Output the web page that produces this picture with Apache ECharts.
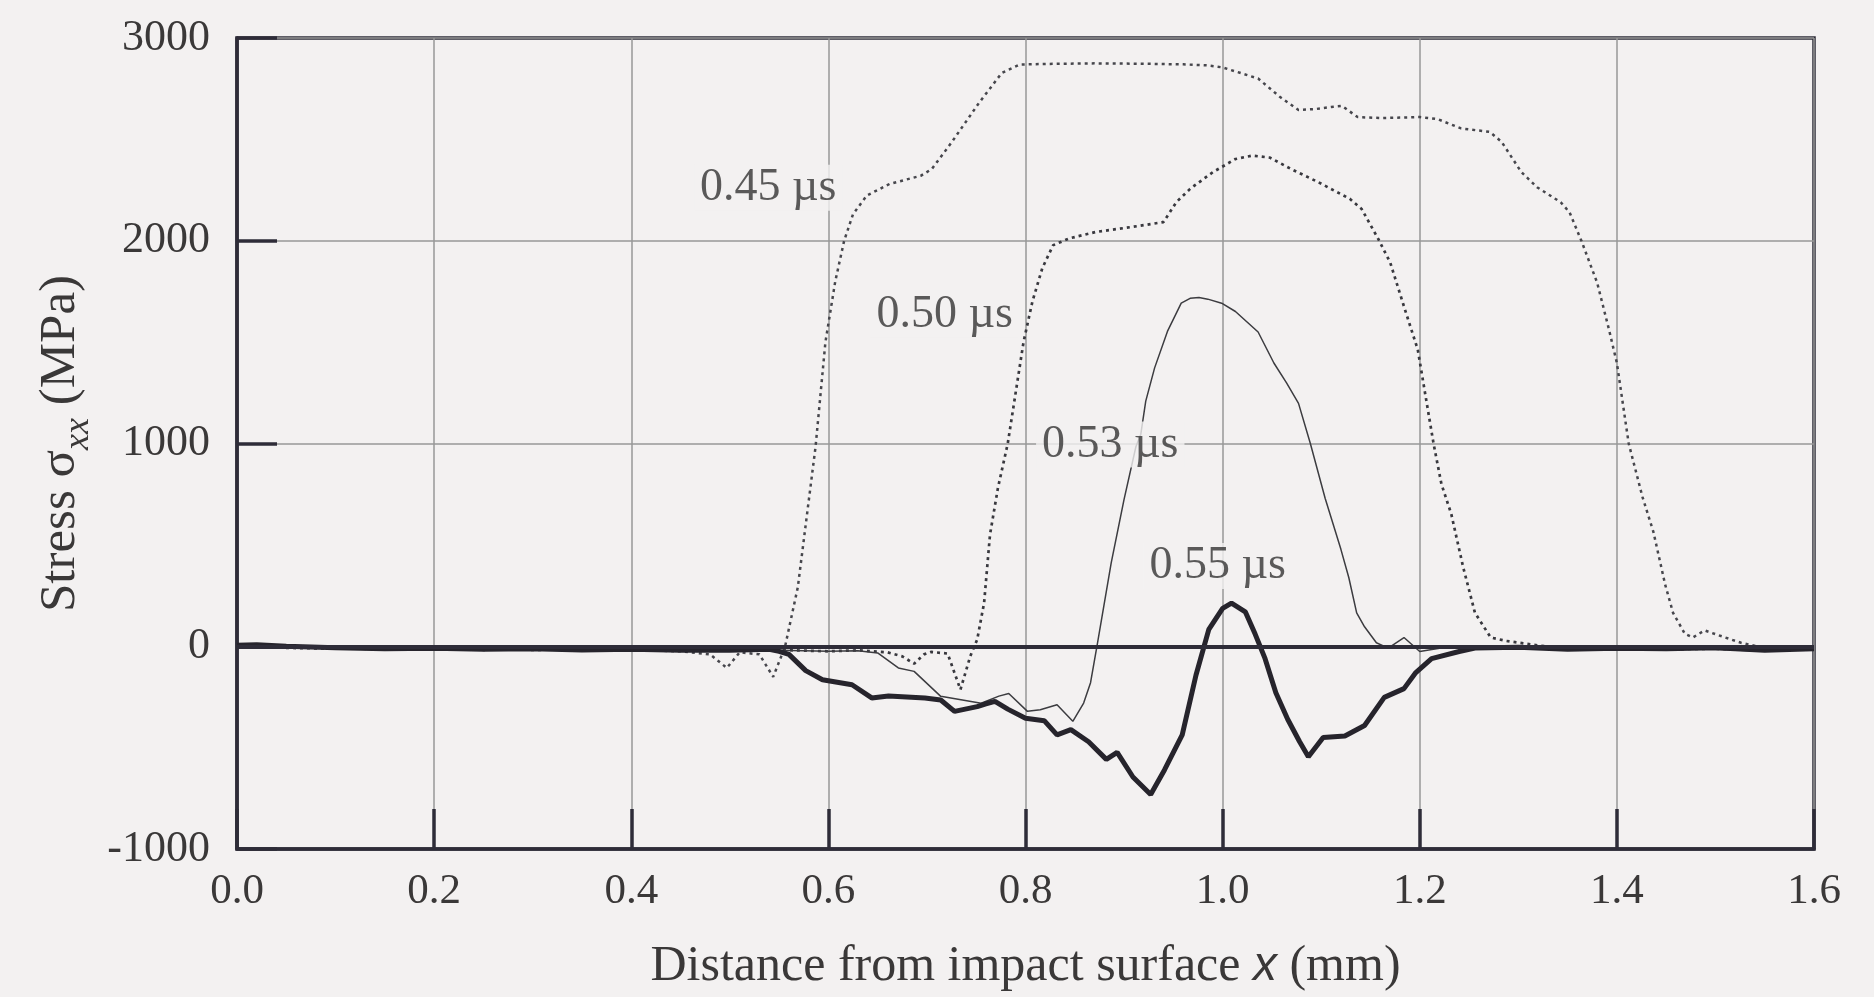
<!DOCTYPE html>
<html>
<head>
<meta charset="utf-8">
<script src="https://cdn.jsdelivr.net/npm/echarts@6/dist/echarts.min.js"></script>
<style>
html,body{margin:0;padding:0;background:#f3f1f1;}
#c{width:1874px;height:997px;}
</style>
</head>
<body>
<div id="c"></div>
<script>
// ---- data (x in mm, stress in MPa) ----
const xTicks = [0.0, 0.2, 0.4, 0.6, 0.8, 1.0, 1.2, 1.4, 1.6];
const yTicks = [-1000, 0, 1000, 2000, 3000];

const s045 = [[0,0],[0.05,-5],[0.1,-10],[0.15,-15],[0.2,-12],[0.25,-18],[0.3,-15],[0.35,-20],[0.4,-18],[0.45,-25],[0.48,-40],[0.497,-107],[0.51,-30],[0.53,-40],[0.544,-151],[0.556,-3],[0.569,291],[0.578,638],[0.587,984],[0.597,1500],[0.607,1800],[0.616,2000],[0.625,2131],[0.639,2223],[0.662,2280],[0.694,2321],[0.705,2354],[0.725,2485],[0.753,2681],[0.776,2828],[0.794,2869],[0.82,2872],[0.87,2875],[0.92,2873],[0.96,2870],[0.985,2865],[1.0,2855],[1.036,2800],[1.058,2710],[1.077,2645],[1.095,2650],[1.11,2660],[1.121,2665],[1.137,2610],[1.162,2605],[1.2,2610],[1.218,2600],[1.242,2554],[1.271,2537],[1.283,2488],[1.303,2339],[1.319,2264],[1.343,2190],[1.352,2140],[1.364,2000],[1.38,1793],[1.392,1562],[1.4,1397],[1.412,1000],[1.426,736],[1.437,565],[1.449,304],[1.457,165],[1.469,61],[1.477,43],[1.489,78],[1.51,43],[1.526,17],[1.55,-9],[1.578,-5],[1.6,-10]];

const s050 = [[0,0],[0.05,-8],[0.1,-12],[0.15,-10],[0.2,-15],[0.25,-12],[0.3,-18],[0.35,-15],[0.4,-20],[0.45,-18],[0.5,-22],[0.55,-18],[0.6,-25],[0.63,-20],[0.66,-30],[0.675,-50],[0.687,-86],[0.697,-40],[0.704,-28],[0.721,-36],[0.734,-214],[0.744,-49],[0.751,33],[0.758,214],[0.764,551],[0.772,780],[0.782,1000],[0.798,1500],[0.807,1700],[0.817,1864],[0.828,1978],[0.844,2011],[0.871,2043],[0.908,2068],[0.94,2092],[0.953,2190],[0.967,2256],[0.99,2338],[1.013,2403],[1.03,2420],[1.048,2410],[1.069,2355],[1.097,2289],[1.129,2207],[1.141,2157],[1.158,2008],[1.17,1893],[1.186,1645],[1.198,1463],[1.206,1231],[1.214,1000],[1.222,800],[1.232,652],[1.244,391],[1.256,165],[1.272,43],[1.288,26],[1.313,9],[1.353,-17],[1.4,-10],[1.45,-15],[1.5,-12],[1.55,-20],[1.6,-10]];

const s053 = [[0,0],[0.05,-10],[0.1,-8],[0.15,-15],[0.2,-12],[0.25,-15],[0.3,-18],[0.35,-14],[0.4,-20],[0.45,-18],[0.5,-22],[0.55,-20],[0.6,-25],[0.63,-22],[0.65,-33],[0.671,-107],[0.687,-124],[0.714,-247],[0.736,-265],[0.755,-281],[0.773,-246],[0.783,-233],[0.802,-321],[0.815,-313],[0.832,-289],[0.848,-370],[0.859,-280],[0.866,-180],[0.873,14],[0.887,412],[0.9,724],[0.912,984],[0.917,1046],[0.922,1209],[0.931,1373],[0.944,1553],[0.958,1692],[0.967,1716],[0.976,1720],[0.985,1712],[0.999,1692],[1.013,1651],[1.036,1550],[1.052,1397],[1.065,1298],[1.077,1198],[1.089,1000],[1.104,730],[1.12,478],[1.128,339],[1.136,165],[1.144,96],[1.156,17],[1.168,-9],[1.184,43],[1.2,-26],[1.22,-10],[1.25,-5],[1.3,-15],[1.35,-10],[1.4,-20],[1.45,-12],[1.5,-15],[1.55,-25],[1.6,-12]];

const s055 = [[0,5],[0.02,8],[0.05,0],[0.1,-8],[0.15,-12],[0.2,-10],[0.25,-15],[0.3,-12],[0.35,-18],[0.4,-15],[0.45,-20],[0.5,-20],[0.54,-15],[0.55,-25],[0.56,-40],[0.577,-120],[0.594,-165],[0.624,-190],[0.644,-255],[0.661,-245],[0.698,-255],[0.714,-265],[0.728,-321],[0.751,-298],[0.759,-285],[0.769,-272],[0.782,-310],[0.8,-355],[0.819,-367],[0.832,-437],[0.846,-411],[0.864,-471],[0.882,-558],[0.893,-523],[0.909,-645],[0.927,-731],[0.941,-610],[0.959,-437],[0.973,-142],[0.986,83],[1.0,187],[1.009,213],[1.023,170],[1.033,60],[1.043,-60],[1.054,-229],[1.066,-360],[1.078,-470],[1.087,-545],[1.102,-450],[1.124,-443],[1.144,-391],[1.164,-252],[1.184,-209],[1.196,-130],[1.212,-61],[1.24,-26],[1.256,-9],[1.3,-5],[1.35,-15],[1.4,-10],[1.45,-12],[1.5,-8],[1.55,-20],[1.6,-12]];

const seriesNames = ['0.45 µs', '0.50 µs', '0.53 µs', '0.55 µs'];
// label anchor points (data coordinates)
const labelPoints = [[0.539, 2261, '0.45 µs'], [0.718, 1635, '0.50 µs'], [0.886, 995, '0.53 µs'], [0.995, 396, '0.55 µs']];

// ---- chart ----
const BG = '#f3f1f1';
const FRAME = '#2e2c38';
const INK = '#3a3838';
const SERIF = '"Liberation Serif", "Times New Roman", serif';

const chart = echarts.init(document.getElementById('c'));
chart.setOption({
  backgroundColor: BG,
  animation: false,
  grid: {left: 237, right: 60, top: 38, bottom: 147, show: true, borderColor: FRAME, borderWidth: 3.5, backgroundColor: 'transparent'},
  xAxis: {
    type: 'value', min: 0, max: 1.6, interval: 0.2,
    axisLine: {show: true, onZero: false, lineStyle: {color: FRAME, width: 3.5}},
    axisTick: {show: true, inside: true, length: 40, lineStyle: {color: FRAME, width: 3.5}},
    splitLine: {show: true, lineStyle: {color: '#979797', width: 1.5}},
    axisLabel: {fontFamily: SERIF, fontSize: 43, color: INK, margin: 21, formatter: v => v.toFixed(1)},
    name: '{a|Distance from impact surface }{b|x}{a| (mm)}',
    nameLocation: 'middle', nameGap: 93,
    nameTextStyle: {rich: {
      a: {fontFamily: SERIF, fontSize: 50, color: INK},
      b: {fontFamily: '"Liberation Sans", Arial, sans-serif', fontStyle: 'italic', fontSize: 48, color: INK}
    }}
  },
  yAxis: {
    type: 'value', min: -1000, max: 3000, interval: 1000,
    axisLine: {show: true, onZero: false, lineStyle: {color: FRAME, width: 3.5}},
    axisTick: {show: true, inside: true, length: 40, lineStyle: {color: FRAME, width: 3.5}},
    splitLine: {show: true, lineStyle: {color: '#979797', width: 1.5}},
    axisLabel: {fontFamily: SERIF, fontSize: 44, color: INK, margin: 27, formatter: v => String(v)},
    name: '{a|Stress σ}{s|xx}{a| (MPa)}',
    nameLocation: 'middle', nameGap: 124, nameRotate: 90,
    nameTextStyle: {rich: {
      a: {fontFamily: SERIF, fontSize: 51, lineHeight: 51, color: INK, verticalAlign: 'top'},
      s: {fontFamily: SERIF, fontStyle: 'italic', fontSize: 36, lineHeight: 36, padding: [25, 0, 0, 0], color: INK, verticalAlign: 'top'}
    }}
  },
  series: [
    {name: seriesNames[0], type: 'line', data: s045, showSymbol: false, smooth: false, z: 3,
     lineStyle: {color: '#46464c', width: 2.5, type: [3, 4]}},
    {name: seriesNames[1], type: 'line', data: s050, showSymbol: false, z: 3,
     lineStyle: {color: '#38383e', width: 2.7, type: [3, 4]}},
    {name: seriesNames[2], type: 'line', data: s053, showSymbol: false, z: 3,
     lineStyle: {color: '#3c3c40', width: 1.5}},
    {name: seriesNames[3], type: 'line', data: s055, showSymbol: false, z: 4,
     lineStyle: {color: '#26242c', width: 5},
     markLine: {silent: true, symbol: 'none', label: {show: false},
       lineStyle: {color: FRAME, width: 4, type: 'solid'}, data: [{yAxis: 0}]}},
    {name: 'labels', type: 'scatter', data: labelPoints, symbolSize: 1, z: 6,
     itemStyle: {color: 'rgba(0,0,0,0)'},
     label: {show: true, position: 'inside', formatter: p => p.data[2],
       fontFamily: SERIF, fontSize: 46, color: '#333', backgroundColor: BG, padding: [0, 6]}}
  ]
});
</script>
</body>
</html>
